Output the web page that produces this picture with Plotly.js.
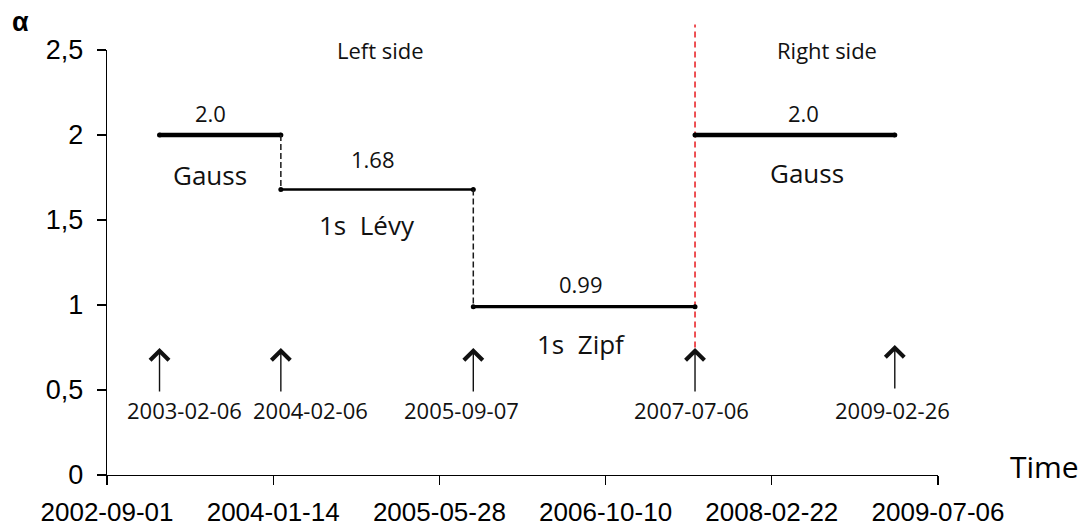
<!DOCTYPE html>
<html><head><meta charset="utf-8">
<script src="https://cdn.plot.ly/plotly-3.0.1.min.js"></script>
<style>html,body{margin:0;padding:0;background:#fff}#chart{width:1088px;height:531px}</style>
</head><body><div id="chart"></div>
<script>
// ---- data ----
const segStart = ['2003-02-06', '2004-02-06', '2005-09-07', '2007-07-06'];
const segEnd = ['2004-02-06', '2005-09-07', '2007-07-06', '2009-02-26'];
const alphaVals = [2.0, 1.68, 0.99, 2.0];
const valueLabels = ['2.0', '1.68', '0.99', '2.0'];
const regimeLabels = ['Gauss', '1s\u00a0 Lévy', '1s\u00a0 Zipf', 'Gauss'];
const eventDates = ['2003-02-06', '2004-02-06', '2005-09-07', '2007-07-06', '2009-02-26'];
const breakDate = '2007-07-06';
const xTicks = ['2002-09-01', '2004-01-14', '2005-05-28', '2006-10-10', '2008-02-22', '2009-07-06'];
const yTicks = [0, 0.5, 1, 1.5, 2, 2.5];
const sideLabels = ['Left side', 'Right side'];

// ---- styles ----
const segWidths = [4.5, 2.5, 3.3, 4.5];
const valShiftX = [-10, -4, -3, 9], valShiftY = [22, 30, 23, 22];
const regShiftX = [-10, -10, -3, 12], regShiftY = [-40, -36, -37, -38];
const dateShiftX = [25, 30, -12, -4, -2];
const arrowTipY = [0.299, 0.299, 0.299, 0.299, 0.306];
const sideX = [0.3297, 0.866];
const calibriLike = 'Open Sans, Noto Sans, sans-serif';
const arialLike = 'Liberation Sans, Arial, sans-serif';
const txt = '#111111';

const traces = [];
for (let i = 0; i < alphaVals.length; i++) {
  traces.push({
    type: 'scatter', mode: 'lines+markers',
    x: [segStart[i], segEnd[i]], y: [alphaVals[i], alphaVals[i]],
    line: {color: '#000', width: segWidths[i]},
    marker: {color: '#000', size: 5},
    showlegend: false, hoverinfo: 'skip'
  });
}
for (let i = 1; i < alphaVals.length; i++) {
  if (segStart[i] === breakDate) continue;
  traces.push({
    type: 'scatter', mode: 'lines',
    x: [segStart[i], segStart[i]], y: [alphaVals[i - 1], alphaVals[i]],
    line: {color: '#1a1a1a', width: 1.5, dash: '6px,3px'},
    showlegend: false, hoverinfo: 'skip'
  });
}

const ann = [];
const mid = (a, b) => (Date.parse(a) + Date.parse(b)) / 2;
for (let i = 0; i < alphaVals.length; i++) {
  const m = mid(segStart[i], segEnd[i]);
  ann.push({x: m, y: alphaVals[i], xref: 'x', yref: 'y', text: valueLabels[i], showarrow: false,
    xshift: valShiftX[i], yshift: valShiftY[i], font: {family: calibriLike, size: 22, color: txt}});
  ann.push({x: m, y: alphaVals[i], xref: 'x', yref: 'y', text: regimeLabels[i], showarrow: false,
    xshift: regShiftX[i], yshift: regShiftY[i], font: {family: calibriLike, size: 26, color: txt}});
}
for (let i = 0; i < eventDates.length; i++) {
  ann.push({x: eventDates[i], y: 0.5, xref: 'x', yref: 'y', text: eventDates[i], showarrow: false,
    xshift: dateShiftX[i], yshift: -20, yanchor: 'middle', font: {family: calibriLike, size: 22, color: txt}});
  ann.push({x: eventDates[i], y: arrowTipY[i], xref: 'x', yref: 'paper', text: '', showarrow: true,
    ax: 0, ay: 45, arrowhead: 4, arrowsize: 2.6, arrowwidth: 1.4, arrowcolor: '#111', standoff: 0});
}
for (let i = 0; i < sideLabels.length; i++) {
  ann.push({x: sideX[i], y: 1.0, xref: 'paper', yref: 'paper', text: sideLabels[i], showarrow: false,
    xanchor: 'center', yanchor: 'middle', font: {family: calibriLike, size: 22, color: txt}});
}
ann.push({x: 1.0843, y: 0.021, xref: 'paper', yref: 'paper', text: 'Time', showarrow: false,
  xanchor: 'left', yanchor: 'middle', font: {family: calibriLike, size: 30, color: '#000'}});
ann.push({x: -0.1035, y: 1.066, xref: 'paper', yref: 'paper', text: 'α', showarrow: false,
  xanchor: 'center', yanchor: 'middle', font: {family: arialLike, size: 27, color: '#000', weight: 'bold'}});

const layout = {
  width: 1088, height: 531,
  margin: {l: 107, r: 150, t: 50, b: 56, pad: 0},
  paper_bgcolor: '#fff', plot_bgcolor: '#fff',
  separators: ',.',
  showlegend: false, hovermode: false,
  xaxis: {
    type: 'date', range: [xTicks[0], xTicks[xTicks.length - 1]],
    tickmode: 'array', tickvals: xTicks, ticktext: xTicks,
    ticks: 'outside', ticklen: 9, tickwidth: 1.3, tickcolor: '#000',
    showline: true, linecolor: '#000', linewidth: 1.3, showgrid: false, zeroline: false,
    tickfont: {family: arialLike, size: 26, color: '#000'}, ticklabelstandoff: 4
  },
  yaxis: {
    range: [0, 2.5], tickmode: 'array', tickvals: yTicks,
    ticks: 'outside', ticklen: 9, tickwidth: 1.3, tickcolor: '#000',
    showline: true, linecolor: '#000', linewidth: 1.3, showgrid: false, zeroline: false,
    tickfont: {family: arialLike, size: 27, color: '#000'}, ticklabelstandoff: 8
  },
  shapes: [{
    type: 'line', xref: 'x', yref: 'paper', x0: breakDate, x1: breakDate, y0: 0.30, y1: 1.06,
    line: {color: '#e8191f', width: 1.5, dash: '6px,4px'}, layer: 'below'
  }],
  annotations: ann
};

Plotly.newPlot('chart', traces, layout, {staticPlot: true, displayModeBar: false});
</script>
</body></html>
